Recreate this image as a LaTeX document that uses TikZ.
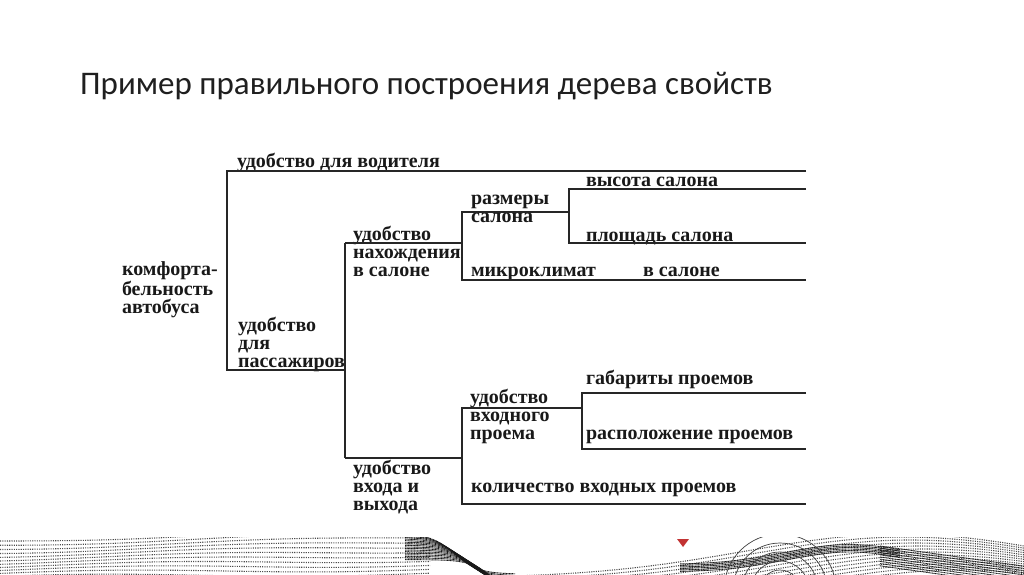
\documentclass[tikz,border=0pt]{standalone}
\usepackage{fontspec}
\setmainfont{Liberation Serif}
\newfontfamily\titlefont{Carlito}
\newfontfamily\treefont{Liberation Serif}[BoldFont={Liberation Serif Bold}]
\begin{document}
\begin{tikzpicture}[x=1pt,y=-1pt,
  lbl/.style={anchor=base west,inner sep=0pt,outer sep=0pt,align=left,
    text=black!90,font=\treefont\bfseries\fontsize{20}{18}\selectfont},
  branch/.style={draw=black!85,line width=1.3pt},
  wave/.style={draw=black!70,line width=1.1pt,dash pattern=on 1.1pt off 1.2pt},
  darkwave/.style={draw=black!90,line width=0.9pt,dash pattern=on 1pt off 0.5pt}]
\useasboundingbox (0,0) rectangle (1024,574);
\fill[white] (0,0) rectangle (1024,574);

% title
\node[anchor=base west,inner sep=0pt,text=black!88,font=\titlefont\fontsize{33}{36}\selectfont]
  (title) at (80,94) {Пример правильного построения дерева свойств};

% labels (multi-line nodes are placed by the baseline of their last line)
\node[lbl] (root)  at (122,313) {комфорта-\\бельность\\автобуса};
\node[lbl] (drv)   at (237,167) {удобство для водителя};
\node[lbl] (pass)  at (238,367) {удобство\\для\\пассажиров};
\node[lbl] (nah)   at (353,276) {удобство\\нахождения\\в салоне};
\node[lbl] (razm)  at (471,222) {размеры\\салона};
\node[lbl] (vys)   at (586,186) {высота салона};
\node[lbl] (pl)    at (586,241) {площадь салона};
\node[lbl] (mik)   at (471,276) {микроклимат};
\node[lbl] (vsal)  at (643,276) {в салоне};
\node[lbl] (vhod)  at (353,510) {удобство\\входа и\\выхода};
\node[lbl] (vpr)   at (470,439) {удобство\\входного\\проема};
\node[lbl] (gab)   at (586,384) {габариты проемов};
\node[lbl] (rasp)  at (586,439) {расположение проемов};
\node[lbl] (kol)   at (471,492) {количество входных проемов};

% junction coordinates
\coordinate (a1) at (227,171); \coordinate (a2) at (227,370);
\coordinate (aE) at (806,171);
\coordinate (b1) at (345,243); \coordinate (b2) at (345,458);
\coordinate (c1) at (462,212); \coordinate (c2) at (462,280); \coordinate (c0) at (462,243);
\coordinate (cE) at (806,280);
\coordinate (d1) at (569,189); \coordinate (d2) at (569,243);
\coordinate (d1E) at (806,189); \coordinate (d2E) at (806,243);
\coordinate (e1) at (462,408); \coordinate (e2) at (462,504); \coordinate (e0) at (462,458);
\coordinate (eE) at (806,504);
\coordinate (f1) at (582,393); \coordinate (f2) at (582,449);
\coordinate (f1E) at (806,393); \coordinate (f2E) at (806,449);

% tree lines
\draw[branch] (aE) -- (a1) -- (a2) -- (b1 |- a2);
\draw[branch] (b1) -- (b2);
\draw[branch] (b1) -- (c0);
\draw[branch] (b2) -- (e0);
\draw[branch] (d1 |- c1) -- (c1) -- (c2) -- (cE);
\draw[branch] (d1E) -- (d1) -- (d2) -- (d2E);
\draw[branch] (f1 |- e1) -- (e1) -- (e2) -- (eE);
\draw[branch] (f1E) -- (f1) -- (f2) -- (f2E);

% decorative band
\begin{scope}
\clip (0,537) rectangle (1024,574);
\foreach \i in {0,...,10}{
  \draw[wave] plot[domain=0:430,samples=45,smooth]
    (\x,{541+3.6*\i-0.03*\x*(1-\i/14)+2*sin(\x*0.8+20*\i)});
}
\foreach \i in {0,...,16}{
  \draw[darkwave] plot[domain=405:515,samples=20,smooth]
    (\x,{538+1.6*\i+40/(1+exp(-(\x-455-2.5*\i)/12))-4});
}
\foreach \i in {0,...,12}{
  \draw[wave] plot[domain=520:1024,samples=70,smooth]
    (\x,{578+3*\i-44*exp(-((\x-900-5*\i)/220)^2)});
}
\foreach \i in {0,...,9}{
  \draw[darkwave] plot[domain=880:1024,samples=25,smooth]
    (\x,{546+2.2*\i+0.14*(\x-880)});
}
\foreach \i in {0,...,5}{
  \draw[darkwave] plot[domain=680:900,samples=30,smooth]
    (\x,{572-1.5*\i-20*exp(-((\x-850)/90)^2)});
}
\foreach \r in {20,29,38,47,56}{
  \draw[black!75,line width=0.7pt] (780,590) circle[radius=\r];
}
\end{scope}
\fill[red!70!black!80!white] (677,539) -- (689,539) -- (683,547) -- cycle;
\end{tikzpicture}
\end{document}
